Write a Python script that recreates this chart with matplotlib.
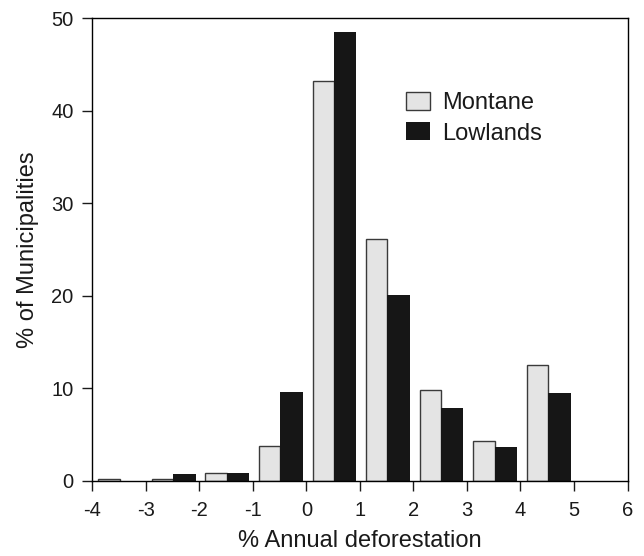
import numpy as np
import matplotlib
matplotlib.use("Agg")
import matplotlib.pyplot as plt

# histogram bins (left edge of each 1% bin)
bin_left = np.array([-4, -3, -2, -1, 0, 1, 2, 3, 4])
montane = [0.15, 0.15, 0.8, 3.8, 43.2, 26.1, 9.8, 4.25, 12.5]
lowlands = [0.0, 0.72, 0.85, 9.6, 48.5, 20.1, 7.9, 3.65, 9.5]

x_ticks = np.arange(-4, 7, 1)
y_ticks = np.arange(0, 51, 10)

plt.rcParams['font.family'] = ['Liberation Sans', 'DejaVu Sans']

fig = plt.figure(figsize=(6.44, 5.56), dpi=100)
ax = fig.add_axes([0.1433, 0.1354, 0.8311, 0.8322])

ax.bar(bin_left + 0.115, montane, width=0.40, align='edge',
       color='#e4e4e4', edgecolor='#3a3a3a', linewidth=1.0, label='Montane')
ax.bar(bin_left + 0.515, lowlands, width=0.42, align='edge',
       color='#161616', edgecolor='none', label='Lowlands')

ax.set_xlim(-4, 6)
ax.set_ylim(0, 50)
ax.set_xticks(x_ticks)
ax.set_yticks(y_ticks)
ax.set_xticklabels([str(v) for v in x_ticks])

for s in ax.spines.values():
    s.set_linewidth(1.0)
    s.set_color('black')
ax.tick_params(direction='out', length=7.5, width=1.0, labelsize=14.5,
               colors='#1a1a1a')
ax.tick_params(axis='x', pad=7)
ax.tick_params(axis='y', pad=6)

ax.set_xlabel('% Annual deforestation', fontsize=17, color='#1a1a1a', labelpad=7)
ax.set_ylabel('% of Municipalities', fontsize=17, color='#1a1a1a', labelpad=9)

ax.legend(loc='upper left', bbox_to_anchor=(0.586, 0.841), frameon=False,
          fontsize=17, handlelength=1.02, handleheight=0.8, handletextpad=0.5,
          labelspacing=0.36, borderpad=0, borderaxespad=0, labelcolor='#1a1a1a')

fig.savefig('out.png', dpi=100)
